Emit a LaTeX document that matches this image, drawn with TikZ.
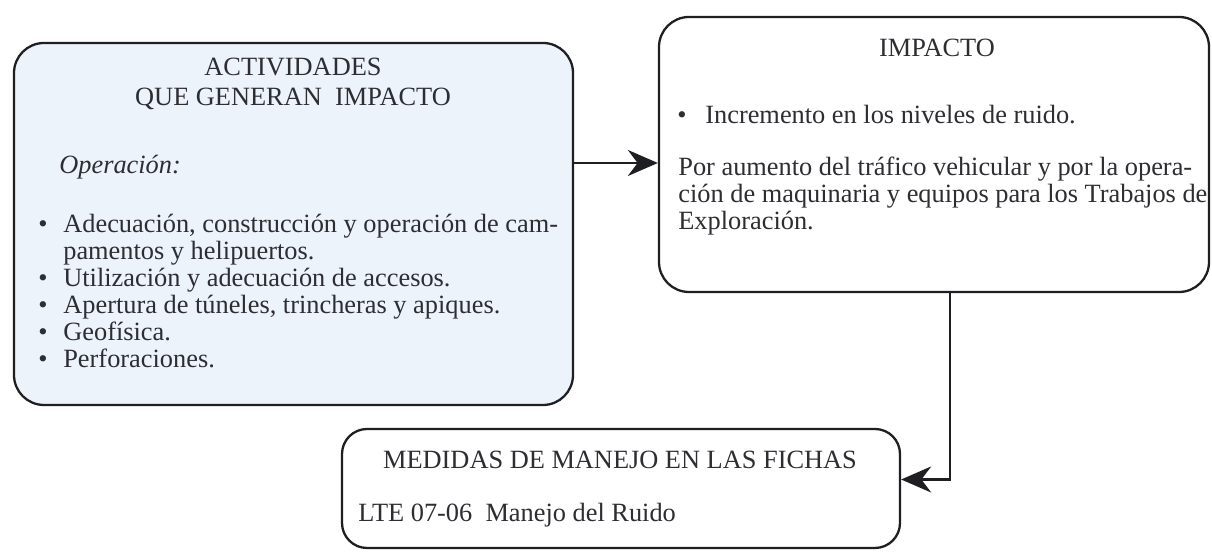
\documentclass[tikz,border=0pt]{standalone}
\usepackage{fontspec}
\setmainfont{Liberation Serif}
\usetikzlibrary{arrows.meta}

\definecolor{panelfill}{RGB}{236, 243, 250}
\definecolor{edgecol}{RGB}{30, 30, 35}
\definecolor{textcol}{RGB}{45, 45, 50}

\begin{document}
\begin{tikzpicture}[x=1cm, y=1cm,
    panel/.style={draw=edgecol, line width=1.3pt, rounded corners=0.6cm, inner sep=0pt},
    txt/.style={textcol, inner sep=0pt, font=\fontsize{15}{16}\selectfont},
    flow/.style={edgecol, line width=1.3pt, -{Stealth[length=0.6cm, width=0.52cm]}}]
    \useasboundingbox (0,0) rectangle (24.24,11.04);

    % Boxes
    \node[panel, fill=panelfill, minimum width=11.18cm, minimum height=7.24cm] (act) at (5.87,6.56) {};
    \node[panel, fill=white, minimum width=11.0cm, minimum height=5.5cm] (imp) at (18.68,7.95) {};
    \node[panel, fill=white, rounded corners=0.5cm, minimum width=11.16cm, minimum height=2.38cm] (med) at (12.42,1.27) {};

    % Activities box
    \node[txt, anchor=base] (acthead1) at (5.86,9.52) {ACTIVIDADES};
    \node[txt, anchor=base] (acthead2) at (5.86,8.92) {QUE GENERAN~~IMPACTO};
    \node[txt, anchor=base west, font=\fontsize{15}{16}\selectfont\itshape] (actsub) at (1.18,7.56) {Operación:};

    \node[txt, anchor=base west] (item1) at (0.76,6.38) {\makebox[0.5cm][l]{\textbullet}Adecuación, construcción y operación de cam-};
    \node[txt, anchor=base west] (item1b) at (1.26,5.84) {pamentos y helipuertos.};
    \node[txt, anchor=base west] (item2) at (0.76,5.30) {\makebox[0.5cm][l]{\textbullet}Utilización y adecuación de accesos.};
    \node[txt, anchor=base west] (item3) at (0.76,4.76) {\makebox[0.5cm][l]{\textbullet}Apertura de túneles, trincheras y apiques.};
    \node[txt, anchor=base west] (item4) at (0.76,4.22) {\makebox[0.5cm][l]{\textbullet}Geofísica.};
    \node[txt, anchor=base west] (item5) at (0.76,3.68) {\makebox[0.5cm][l]{\textbullet}Perforaciones.};

    % Impact box
    \node[txt, anchor=base] (imphead) at (18.74,9.90) {IMPACTO};
    \node[txt, anchor=base west] (impitem) at (13.54,8.56) {\makebox[0.56cm][l]{\textbullet}Incremento en los niveles de ruido.};
    \node[txt, anchor=base west] (impline1) at (13.56,7.52) {Por aumento del tráfico vehicular y por la opera-};
    \node[txt, anchor=base west] (impline2) at (13.56,6.98) {ción de maquinaria y equipos para los Trabajos de};
    \node[txt, anchor=base west] (impline3) at (13.56,6.44) {Exploración.};

    % Measures box
    \node[txt, anchor=base] (medhead) at (12.40,1.66) {MEDIDAS DE MANEJO EN LAS FICHAS};
    \node[txt, anchor=base west] (medline) at (7.16,0.60) {LTE 07-06~~Manejo del Ruido};

    % Connectors
    \coordinate (actout) at ([yshift=1.22cm]act.east);
    \draw[flow] (actout) -- (actout -| imp.west);
    \draw[flow] ([xshift=0.32cm]imp.south) |- ([yshift=0.18cm]med.east);

\end{tikzpicture}
\end{document}
